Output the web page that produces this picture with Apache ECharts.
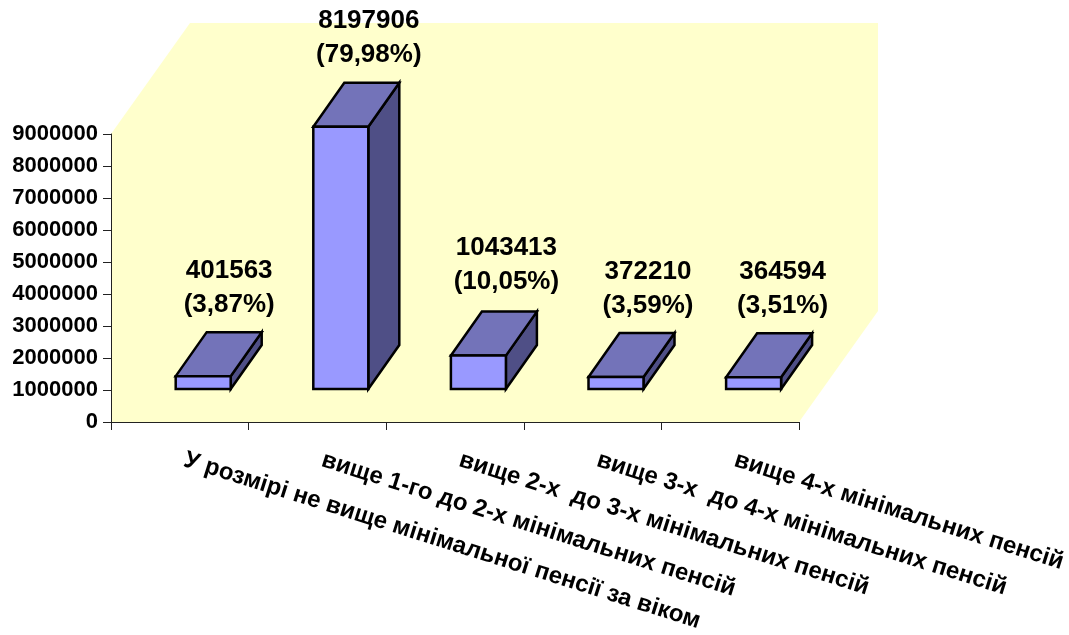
<!DOCTYPE html>
<html><head><meta charset="utf-8">
<script src="https://cdn.jsdelivr.net/npm/echarts@6/dist/echarts.min.js"></script>
<style>html,body{margin:0;padding:0;background:#fff}#c{width:1069px;height:635px}</style>
</head><body><div id="c"></div>
<script>
const categories = [
  "У розмірі не вище мінімальної пенсії за віком",
  "вище 1-го до 2-х мінімальних пенсій",
  "вище 2-х  до 3-х мінімальних пенсій",
  "вище 3-х  до 4-х мінімальних пенсій",
  "вище 4-х мінімальних пенсій"
];
const values = [401563, 8197906, 1043413, 372210, 364594];
const shares = ["3,87%", "79,98%", "10,05%", "3,59%", "3,51%"];

const FONT = '"Liberation Sans", Arial, sans-serif';
const WALL = [79, -111], OFFSET = [23.4, -33], DEPTH = [31, -44], HALF = 27.5;
const LABEL_DX = [-5, -3, -3, 1, -2];
const LABEL_DY = [-10, -11, -13, -10, -11];
const shift = (p, d) => [p[0] + d[0], p[1] + d[1]];

function renderWall(params, api) {
  const halfCat = api.size([1, 0])[0] / 2;
  const tl = api.coord([0, 9000000]); tl[0] -= halfCat;
  const bl = api.coord([0, 0]); bl[0] -= halfCat;
  const br = api.coord([categories.length - 1, 0]); br[0] += halfCat;
  return {
    type: 'polygon', silent: true,
    shape: { points: [bl, tl, shift(tl, WALL), [br[0] + WALL[0], tl[1] + WALL[1]], shift(br, WALL), br] },
    style: { fill: '#FFFFCC' }
  };
}

function renderBar(params, api) {
  const i = api.value(0), v = api.value(1);
  const b0 = shift(api.coord([i, 0]), OFFSET), t0 = shift(api.coord([i, v]), OFFSET);
  const fl = [b0[0] - HALF, b0[1]], fr = [b0[0] + HALF, b0[1]];
  const tl = [t0[0] - HALF, t0[1]], tr = [t0[0] + HALF, t0[1]];
  const line = { stroke: '#000', lineWidth: 2.5, lineJoin: 'miter' };
  const topBack = shift(t0, DEPTH);
  return {
    type: 'group', children: [
      { type: 'polygon', shape: { points: [fr, tr, shift(tr, DEPTH), shift(fr, DEPTH)] }, style: { fill: '#4F4F86', ...line } },
      { type: 'polygon', shape: { points: [tl, tr, shift(tr, DEPTH), shift(tl, DEPTH)] }, style: { fill: '#7373B9', ...line } },
      { type: 'polygon', shape: { points: [fl, fr, tr, tl] }, style: { fill: '#9999FF', ...line } },
      { type: 'text', x: topBack[0] + LABEL_DX[i], y: topBack[1] + LABEL_DY[i],
        style: { text: values[i] + '\n(' + shares[i] + ')', fill: '#000', font: 'bold 26px ' + FONT,
                 lineHeight: 34, align: 'center', verticalAlign: 'bottom' } }
    ]
  };
}

const chart = echarts.init(document.getElementById('c'), null, { renderer: 'canvas' });
chart.setOption({
  animation: false,
  backgroundColor: '#fff',
  grid: { left: 111, right: 270, top: 134, bottom: 213, containLabel: false, outerBoundsMode: 'none' },
  xAxis: {
    type: 'category', data: categories, z: 5,
    axisLine: { show: true, lineStyle: { color: '#222', width: 1 } },
    axisTick: { show: true, length: 8, lineStyle: { color: '#222', width: 1 }, alignWithLabel: false },
    splitLine: { show: false },
    axisLabel: { interval: 0, rotate: -17.5, margin: 36, padding: [0, 0, 0, 5], color: '#000', fontFamily: FONT, fontWeight: 'bold', fontSize: 24, hideOverlap: false }
  },
  yAxis: {
    type: 'value', min: 0, max: 9000000, interval: 1000000, z: 5,
    axisLine: { show: true, lineStyle: { color: '#222', width: 1 } },
    axisTick: { show: true, length: 8, lineStyle: { color: '#222', width: 1 } },
    splitLine: { show: false },
    axisLabel: { margin: 13, color: '#000', fontFamily: FONT, fontWeight: 'bold', fontSize: 22, formatter: v => String(v) }
  },
  series: [
    { type: 'custom', coordinateSystem: 'cartesian2d', renderItem: renderWall, data: [[0, 0]], z: 1, silent: true },
    { type: 'custom', coordinateSystem: 'cartesian2d', renderItem: renderBar, data: values.map((v, i) => [i, v]), z: 2, silent: true }
  ]
});
</script></body></html>
